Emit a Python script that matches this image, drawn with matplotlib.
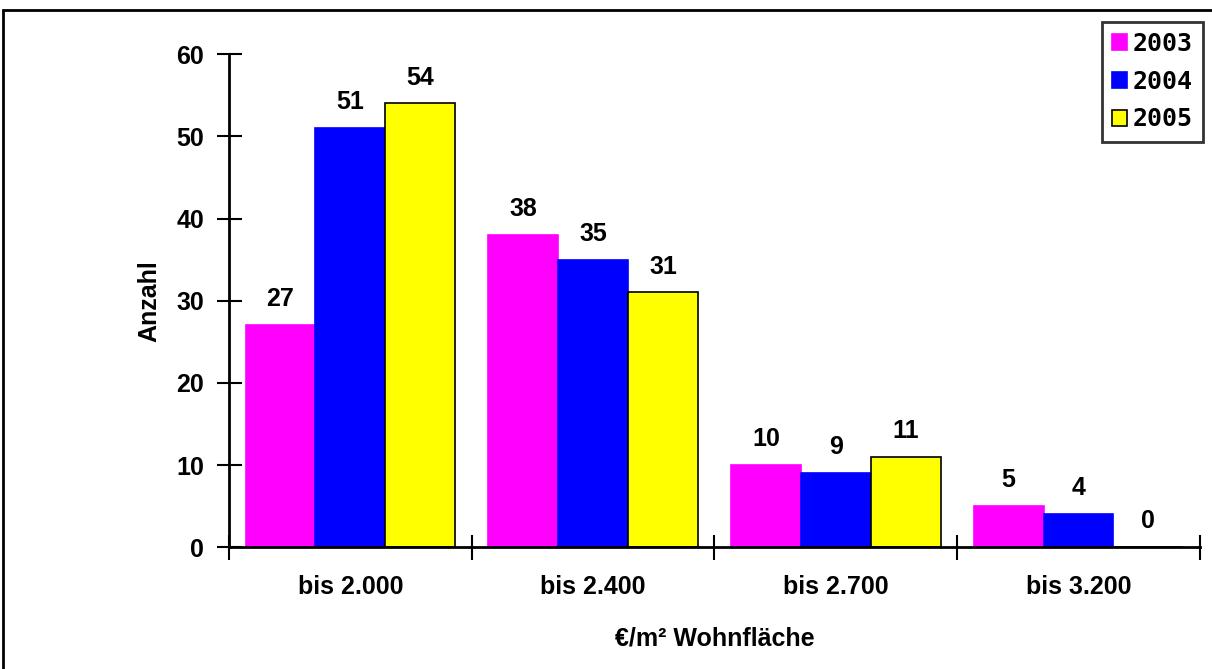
import matplotlib.pyplot as plt
import numpy as np
from matplotlib.patches import Rectangle

categories = ['bis 2.000', 'bis 2.400', 'bis 2.700', 'bis 3.200']
years = ['2003', '2004', '2005']
values_2003 = [27, 38, 10, 5]
values_2004 = [51, 35, 9, 4]
values_2005 = [54, 31, 11, 0]

series = [values_2003, values_2004, values_2005]
colors = ['#FF00FF', '#0000FF', '#FFFF00']
edges = ['#FF00FF', '#0000FF', 'black']

plt.rcParams['font.family'] = ['Liberation Sans', 'DejaVu Sans']
FS = 18

fig = plt.figure(figsize=(12.12, 6.69), dpi=100)
ax = fig.add_axes([0.189, 0.182, 0.801, 0.737])

# outer frame of the chart area
fig.patches.append(Rectangle((0.0025, -0.05), 1.1, 0.985 + 0.05, transform=fig.transFigure,
                             fill=False, edgecolor='black', linewidth=2))

x = np.arange(len(categories))
width = 0.288
for i, (vals, col, ec, year) in enumerate(zip(series, colors, edges, years)):
    pos = x + (i - 1) * width
    bars = ax.bar(pos, vals, width, color=col, edgecolor=ec, linewidth=1.2, label=year)
    for b, v in zip(bars, vals):
        ax.annotate(str(v), (b.get_x() + b.get_width() / 2, v), xytext=(0, 10),
                    textcoords='offset points', ha='center', va='bottom',
                    fontsize=FS, fontweight='bold')

ax.set_xlim(-0.5, 3.5)
ax.set_ylim(0, 60)
ax.set_yticks(range(0, 61, 10))
ax.set_xticks(x)
ax.set_xticklabels(categories, fontsize=FS, fontweight='bold')
ax.set_xticks(np.arange(-0.5, 4, 1), minor=True)
ax.tick_params(axis='x', which='major', length=0, pad=20)
ax.tick_params(axis='x', which='minor', direction='inout', length=18, width=1.5)
ax.tick_params(axis='y', direction='inout', length=18, width=1.5, labelsize=FS, pad=9)
for lab in ax.get_yticklabels():
    lab.set_fontweight('bold')

for s in ['top', 'right']:
    ax.spines[s].set_visible(False)
for s in ['left', 'bottom']:
    ax.spines[s].set_linewidth(2)

ax.set_ylabel('Anzahl', fontsize=FS, fontweight='bold', labelpad=11)
ax.set_xlabel('€/m² Wohnfläche', fontsize=FS, fontweight='bold', labelpad=20)

leg = ax.legend(loc='upper right', bbox_to_anchor=(1203 / 1212, 1 - 22 / 669),
                bbox_transform=fig.transFigure, borderaxespad=0,
                frameon=True, fancybox=False,
                edgecolor='black', handlelength=0.6, handleheight=0.6, handletextpad=0.25,
                borderpad=0.4, labelspacing=0.55,
                prop={'family': 'DejaVu Sans Mono', 'weight': 'bold', 'size': 18})
leg.get_frame().set_linewidth(2)

plt.savefig('out.png', dpi=100)
plt.close()
